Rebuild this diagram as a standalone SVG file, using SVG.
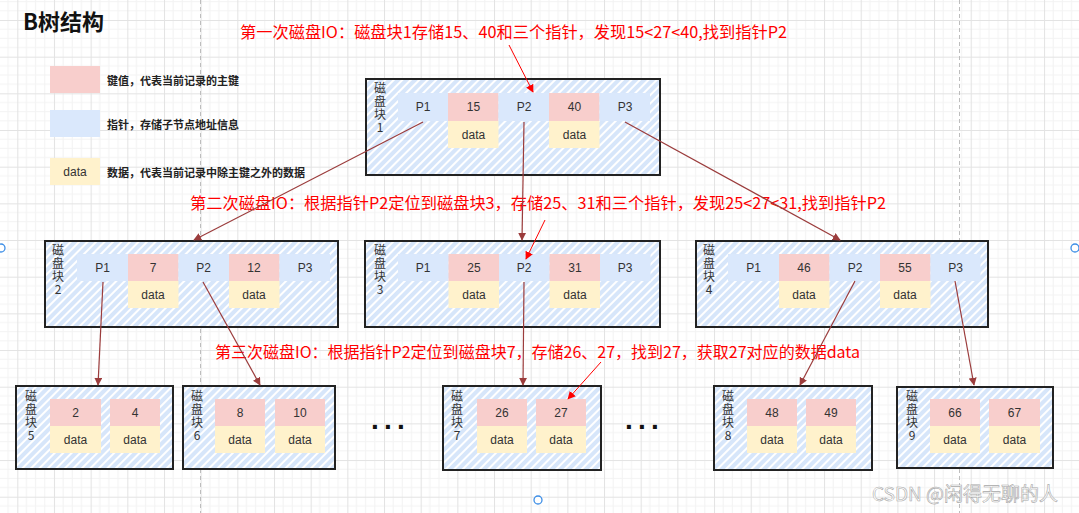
<svg xmlns="http://www.w3.org/2000/svg" width="1079" height="513" viewBox="0 0 1079 513">
<defs>
<pattern id="grid" patternUnits="userSpaceOnUse" x="17.3" y="20" width="36.67" height="36.67">
<rect width="36.67" height="36.67" fill="#ffffff"/>
<path d="M9.17 0V36.67M18.33 0V36.67M27.5 0V36.67M0 9.17H36.67M0 18.33H36.67M0 27.5H36.67" stroke="#f3f3f3" stroke-width="1" fill="none"/>
<path d="M0.5 0V36.67M0 0.5H36.67" stroke="#e3e3e3" stroke-width="1" fill="none"/>
</pattern>
<pattern id="hatch" patternUnits="userSpaceOnUse" width="6" height="6" patternTransform="rotate(45)">
<rect width="6" height="6" fill="#ffffff"/>
<rect width="4" height="6" fill="#d7e6fa"/>
</pattern>
<marker id="ah" viewBox="0 0 10 10" refX="9" refY="5" markerWidth="8" markerHeight="8" markerUnits="userSpaceOnUse" orient="auto">
<path d="M0 0L10 5L0 10Z" fill="#9b3c3c"/>
</marker>
<marker id="ahr" viewBox="0 0 10 10" refX="9" refY="5" markerWidth="8" markerHeight="8" markerUnits="userSpaceOnUse" orient="auto">
<path d="M0 0L10 5L0 10Z" fill="#ff0000"/>
</marker>
</defs>
<style>
.box{fill:url(#hatch);stroke:#222;stroke-width:2}
.k{fill:#f8cecc}
.p{fill:#dae8fc}
.d{fill:#fff2cc}
.t{font-family:"Liberation Sans",Arial,sans-serif;font-size:12px;fill:#333;text-anchor:middle;dominant-baseline:central}
.lbl{font-family:"Noto Sans CJK SC","Liberation Sans",sans-serif;font-size:12px;fill:#333;writing-mode:vertical-rl;text-orientation:upright;letter-spacing:1.3px}
.leg{font-family:"Noto Sans CJK SC",sans-serif;font-size:11px;font-weight:bold;fill:#222;dominant-baseline:central}
.red{font-family:"Noto Sans CJK SC","Liberation Sans",sans-serif;font-size:16px;fill:#ff0000}
.edge{stroke:#9b3c3c;stroke-width:1.2;fill:none;marker-end:url(#ah)}
.redge{stroke:#ff0000;stroke-width:1;fill:none;marker-end:url(#ahr)}
.dots{font-family:"Liberation Sans",Arial,sans-serif;font-size:28px;font-weight:bold;fill:#111;letter-spacing:5.2px}
.handle{fill:#ffffff;stroke:#3d8ee6;stroke-width:1.3}
.page{stroke:#bdbdbd;stroke-width:1;stroke-dasharray:4 3}
</style>
<rect width="1079" height="513" fill="url(#grid)"/>
<line class="page" x1="200.5" y1="0" x2="200.5" y2="513"/>
<line class="page" x1="959.5" y1="0" x2="959.5" y2="513"/>

<g id="title">
<text x="23" y="30" style="font-family:'Noto Sans CJK SC',sans-serif;font-size:22px;font-weight:bold;fill:#111">B树结构</text>
</g>

<g id="legend">
<rect class="k" x="50" y="66" width="50" height="27"/>
<text class="leg" x="107" y="80">键值，代表当前记录的主键</text>
<rect class="p" x="50" y="110" width="50" height="27"/>
<text class="leg" x="107" y="124">指针，存储子节点地址信息</text>
<rect class="d" x="50" y="158" width="50" height="27"/>
<text class="t" x="75" y="171.5">data</text>
<text class="leg" x="107" y="172">数据，代表当前记录中除主键之外的数据</text>
</g>

<g id="annotations">
<text class="red" x="240" y="38" textLength="547" lengthAdjust="spacingAndGlyphs">第一次磁盘IO：磁盘块1存储15、40和三个指针，发现15&lt;27&lt;40,找到指针P2</text>
<text class="red" x="190" y="209" textLength="696" lengthAdjust="spacingAndGlyphs">第二次磁盘IO：根据指针P2定位到磁盘块3，存储25、31和三个指针，发现25&lt;27&lt;31,找到指针P2</text>
<text class="red" x="215" y="358" textLength="645" lengthAdjust="spacingAndGlyphs">第三次磁盘IO：根据指针P2定位到磁盘块7，存储26、27，找到27，获取27对应的数据data</text>
</g>

<g id="block1">
<rect class="box" x="366" y="79" width="294" height="96"/>
<text class="lbl" x="380" y="82">磁盘块1</text>
<rect class="p" x="398" y="93" width="50.5" height="28"/><text class="t" x="423" y="107">P1</text>
<rect class="k" x="448" y="93" width="50.5" height="28"/><text class="t" x="473.5" y="107">15</text>
<rect class="p" x="498.5" y="93" width="50.5" height="28"/><text class="t" x="524" y="107">P2</text>
<rect class="k" x="549" y="93" width="50.5" height="28"/><text class="t" x="574.5" y="107">40</text>
<rect class="p" x="599.5" y="93" width="50.5" height="28"/><text class="t" x="625" y="107">P3</text>
<rect class="d" x="448" y="121" width="50.5" height="27"/><text class="t" x="473.5" y="134.5">data</text>
<rect class="d" x="549" y="121" width="50.5" height="27"/><text class="t" x="574.5" y="134.5">data</text>
</g>

<g id="block2">
<rect class="box" x="45" y="241" width="293" height="86"/>
<text class="lbl" x="58" y="244">磁盘块2</text>
<rect class="p" x="77" y="254" width="51" height="27"/><text class="t" x="102.5" y="267.5">P1</text>
<rect class="k" x="128" y="254" width="50.5" height="27"/><text class="t" x="153" y="267.5">7</text>
<rect class="p" x="178.5" y="254" width="50.5" height="27"/><text class="t" x="203.5" y="267.5">P2</text>
<rect class="k" x="229" y="254" width="50.5" height="27"/><text class="t" x="254" y="267.5">12</text>
<rect class="p" x="279.5" y="254" width="50.5" height="27"/><text class="t" x="305" y="267.5">P3</text>
<rect class="d" x="128" y="281" width="50.5" height="27"/><text class="t" x="153" y="294.5">data</text>
<rect class="d" x="229" y="281" width="50.5" height="27"/><text class="t" x="254" y="294.5">data</text>
</g>

<g id="block3">
<rect class="box" x="365" y="241" width="295" height="86"/>
<text class="lbl" x="380" y="244">磁盘块3</text>
<rect class="p" x="398" y="254" width="50.5" height="27"/><text class="t" x="423" y="267.5">P1</text>
<rect class="k" x="448.5" y="254" width="50.5" height="27"/><text class="t" x="474" y="267.5">25</text>
<rect class="p" x="499" y="254" width="50.5" height="27"/><text class="t" x="524" y="267.5">P2</text>
<rect class="k" x="549.5" y="254" width="50.5" height="27"/><text class="t" x="575" y="267.5">31</text>
<rect class="p" x="600" y="254" width="50.5" height="27"/><text class="t" x="625" y="267.5">P3</text>
<rect class="d" x="448.5" y="281" width="50.5" height="27"/><text class="t" x="474" y="294.5">data</text>
<rect class="d" x="549.5" y="281" width="50.5" height="27"/><text class="t" x="575" y="294.5">data</text>
</g>

<g id="block4">
<rect class="box" x="696" y="241" width="292" height="86"/>
<text class="lbl" x="709" y="244">磁盘块4</text>
<rect class="p" x="728" y="254" width="51" height="27"/><text class="t" x="753.5" y="267.5">P1</text>
<rect class="k" x="779" y="254" width="50.5" height="27"/><text class="t" x="804" y="267.5">46</text>
<rect class="p" x="829.5" y="254" width="50.5" height="27"/><text class="t" x="855" y="267.5">P2</text>
<rect class="k" x="880" y="254" width="50.5" height="27"/><text class="t" x="905" y="267.5">55</text>
<rect class="p" x="930.5" y="254" width="50" height="27"/><text class="t" x="955.5" y="267.5">P3</text>
<rect class="d" x="779" y="281" width="50.5" height="27"/><text class="t" x="804" y="294.5">data</text>
<rect class="d" x="880" y="281" width="50.5" height="27"/><text class="t" x="905" y="294.5">data</text>
</g>

<g id="block5">
<rect class="box" x="16" y="386" width="157" height="83"/>
<text class="lbl" x="31" y="390">磁盘块5</text>
<rect class="k" x="50" y="399" width="51" height="27"/><text class="t" x="75.5" y="412.5">2</text>
<rect class="k" x="110" y="399" width="50" height="27"/><text class="t" x="135" y="412.5">4</text>
<rect class="d" x="50" y="426" width="51" height="27"/><text class="t" x="75.5" y="439.5">data</text>
<rect class="d" x="110" y="426" width="50" height="27"/><text class="t" x="135" y="439.5">data</text>
</g>

<g id="block6">
<rect class="box" x="183" y="386" width="152" height="83"/>
<text class="lbl" x="197" y="390">磁盘块6</text>
<rect class="k" x="215" y="399" width="50" height="27"/><text class="t" x="240" y="412.5">8</text>
<rect class="k" x="275" y="399" width="50" height="27"/><text class="t" x="300" y="412.5">10</text>
<rect class="d" x="215" y="426" width="50" height="27"/><text class="t" x="240" y="439.5">data</text>
<rect class="d" x="275" y="426" width="50" height="27"/><text class="t" x="300" y="439.5">data</text>
</g>

<g id="block7">
<rect class="box" x="443" y="386" width="158" height="84"/>
<text class="lbl" x="457" y="390">磁盘块7</text>
<rect class="k" x="477" y="399" width="50" height="27"/><text class="t" x="502" y="412.5">26</text>
<rect class="k" x="536" y="399" width="50" height="27"/><text class="t" x="561" y="412.5">27</text>
<rect class="d" x="477" y="426" width="50" height="27"/><text class="t" x="502" y="439.5">data</text>
<rect class="d" x="536" y="426" width="50" height="27"/><text class="t" x="561" y="439.5">data</text>
</g>

<g id="block8">
<rect class="box" x="714" y="386" width="158" height="84"/>
<text class="lbl" x="728" y="390">磁盘块8</text>
<rect class="k" x="747" y="399" width="50" height="27"/><text class="t" x="772" y="412.5">48</text>
<rect class="k" x="806" y="399" width="50" height="27"/><text class="t" x="831" y="412.5">49</text>
<rect class="d" x="747" y="426" width="50" height="27"/><text class="t" x="772" y="439.5">data</text>
<rect class="d" x="806" y="426" width="50" height="27"/><text class="t" x="831" y="439.5">data</text>
</g>

<g id="block9">
<rect class="box" x="897" y="387" width="156" height="81"/>
<text class="lbl" x="912" y="390">磁盘块9</text>
<rect class="k" x="930" y="399" width="50" height="27"/><text class="t" x="955" y="412.5">66</text>
<rect class="k" x="989" y="399" width="51" height="27"/><text class="t" x="1014.5" y="412.5">67</text>
<rect class="d" x="930" y="426" width="50" height="27"/><text class="t" x="955" y="439.5">data</text>
<rect class="d" x="989" y="426" width="51" height="27"/><text class="t" x="1014.5" y="439.5">data</text>
</g>

<g id="ellipsis">
<text class="dots" x="371" y="429">...</text>
<text class="dots" x="625" y="429">...</text>
</g>

<g id="connectors">
<path class="edge" d="M423 122L194 240"/>
<path class="edge" d="M524 122L522 240"/>
<path class="edge" d="M625 122L840 240"/>
<path class="edge" d="M103 282L98 385"/>
<path class="edge" d="M203 282L260 385"/>
<path class="edge" d="M524 282L523 385"/>
<path class="edge" d="M855 281L800 385"/>
<path class="edge" d="M955 281L974 385"/>
<path class="redge" d="M509 45L533 92"/>
<path class="redge" d="M545 220L526 259"/>
<path class="redge" d="M601 362L568 399"/>
</g>

<g id="watermark">
<text x="872" y="501" style="font-family:'Noto Sans CJK SC','Liberation Sans',sans-serif;font-size:19px;fill:#ffffff;stroke:#a8a8a8;stroke-width:0.6">CSDN @闲得无聊的人</text>
</g>

<g id="handles">
<circle class="handle" cx="1" cy="248" r="4"/>
<circle class="handle" cx="1075" cy="248" r="4"/>
<circle class="handle" cx="538" cy="500" r="4"/>
</g>
</svg>
